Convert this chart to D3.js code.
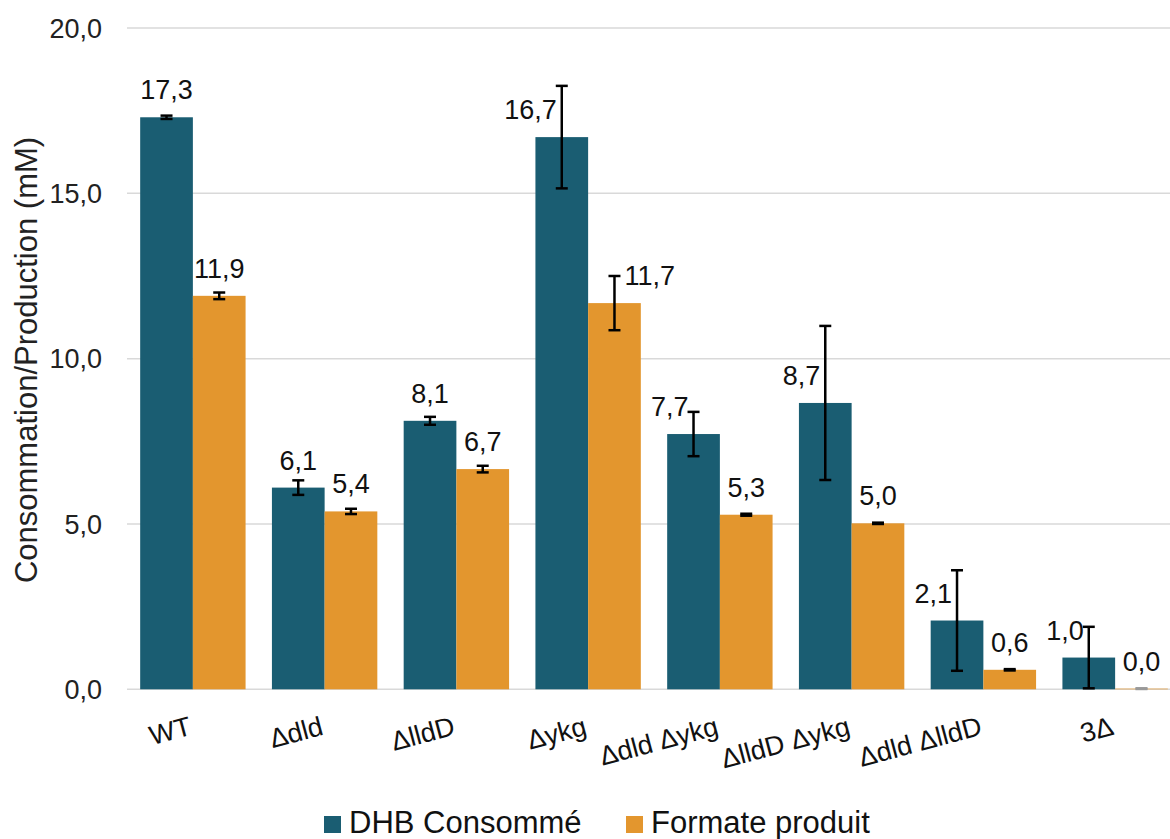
<!DOCTYPE html>
<html>
<head>
<meta charset="utf-8">
<script src="https://cdn.jsdelivr.net/npm/d3@7"></script>
<style>
    body { margin: 0; background: #fff; }
    svg { display: block; font-family: "Liberation Sans", Arial, sans-serif; }
</style>
</head>
<body>
<div id="chart"></div>
<script>
const categories = ["WT", "Δdld", "ΔlldD", "Δykg", "Δdld Δykg", "ΔlldD Δykg", "Δdld ΔlldD", "3Δ"];
const seriesNames = ["DHB Consommé", "Formate produit"];
const dhbValues = [17.3, 6.1, 8.12, 16.7, 7.72, 8.66, 2.08, 0.96];
const dhbErrors = [0.05, 0.22, 0.12, 1.55, 0.67, 2.33, 1.52, 0.93];
const formateValues = [11.9, 5.38, 6.66, 11.68, 5.28, 5.02, 0.59, 0.02];
const formateErrors = [0.1, 0.08, 0.1, 0.82, 0.03, 0.02, 0.02, 0.01];
const yTicks = [0, 5, 10, 15, 20];

const colors = ["#1a5d72", "#e3962e"];
const width = 1170;
const height = 839;

const svg = d3.select("#chart")
    .append("svg")
    .attr("width", width)
    .attr("height", height);

svg.append("rect").attr("width", width).attr("height", height).attr("fill", "#fff");

const x = d3.scaleBand()
    .domain(categories)
    .range([127, 1181])
    .paddingInner(0.2)
    .paddingOuter(0.1);

const xSub = d3.scaleBand()
    .domain([0, 1])
    .range([0, x.bandwidth()]);

const y = d3.scaleLinear()
    .domain([0, 20])
    .range([689.3, 28]);

// gridlines
svg.append("g")
    .selectAll("line")
    .data(yTicks)
    .enter().append("line")
    .attr("x1", 127)
    .attr("x2", width)
    .attr("y1", d => y(d))
    .attr("y2", d => y(d))
    .attr("stroke", "#d9d9d9")
    .attr("stroke-width", 1.5);

// y tick labels
const fmt = d => d3.format(".1f")(d).replace(".", ",");
svg.append("g")
    .selectAll("text")
    .data(yTicks)
    .enter().append("text")
    .attr("x", 102)
    .attr("y", d => y(d))
    .attr("dy", "0.36em")
    .attr("text-anchor", "end")
    .style("font-size", "27px")
    .style("fill", "#222")
    .text(fmt);

// y axis title
svg.append("text")
    .attr("transform", "translate(37,360) rotate(-90)")
    .attr("text-anchor", "middle")
    .style("font-size", "31px")
    .style("fill", "#222")
    .text("Consommation/Production (mM)");

const data = [];
categories.forEach((c, i) => {
    data.push({ cat: c, s: 0, value: dhbValues[i], err: dhbErrors[i] });
    data.push({ cat: c, s: 1, value: formateValues[i], err: formateErrors[i] });
});

const cx = d => x(d.cat) + xSub(d.s) + xSub.bandwidth() / 2;

// bars
svg.append("g")
    .selectAll("rect")
    .data(data)
    .enter().append("rect")
    .attr("x", d => x(d.cat) + xSub(d.s))
    .attr("width", xSub.bandwidth())
    .attr("y", d => y(d.value))
    .attr("height", d => y(0) - y(d.value))
    .attr("fill", d => colors[d.s]);

// error bars
const eb = svg.append("g")
    .attr("stroke", "#000")
    .attr("stroke-width", 2.5);

data.forEach(d => {
    const top = y(d.value + d.err);
    const bottom = y(Math.max(0, d.value - d.err));
    const c = cx(d);
    const col = d.value < 0.1 ? "#999" : "#000";
    eb.append("line").attr("x1", c).attr("x2", c).attr("y1", top).attr("y2", bottom).attr("stroke", col);
    eb.append("line").attr("x1", c - 6).attr("x2", c + 6).attr("y1", top).attr("y2", top).attr("stroke", col);
    eb.append("line").attr("x1", c - 6).attr("x2", c + 6).attr("y1", bottom).attr("y2", bottom).attr("stroke", col);
});

// value labels
const shifted = d => y(d.value) - y(d.value + d.err) > 12;
svg.append("g")
    .selectAll("text")
    .data(data)
    .enter().append("text")
    .attr("x", d => {
        if (!shifted(d)) return cx(d);
        return d.s === 0 ? cx(d) - 5 : cx(d) + 10;
    })
    .attr("y", d => y(d.value) - 18)
    .attr("text-anchor", d => {
        if (!shifted(d)) return "middle";
        return d.s === 0 ? "end" : "start";
    })
    .style("font-size", "27px")
    .style("fill", "#111")
    .text(d => fmt(d.value));

// x labels
svg.append("g")
    .selectAll("text")
    .data(categories)
    .enter().append("text")
    .attr("transform", d => `translate(${x(d) + x.bandwidth() / 2},${y(0) + 45}) rotate(-15)`)
    .attr("text-anchor", "end")
    .style("font-size", "27px")
    .style("fill", "#111")
    .text(d => d);

// legend
const legendX = [324, 626];
const legend = svg.append("g");
seriesNames.forEach((name, i) => {
    legend.append("rect")
        .attr("x", legendX[i])
        .attr("y", 816)
        .attr("width", 17)
        .attr("height", 17)
        .attr("fill", colors[i]);
    legend.append("text")
        .attr("x", legendX[i] + 25)
        .attr("y", 833)
        .style("font-size", "31px")
        .style("fill", "#111")
        .text(name);
});
</script>
</body>
</html>
